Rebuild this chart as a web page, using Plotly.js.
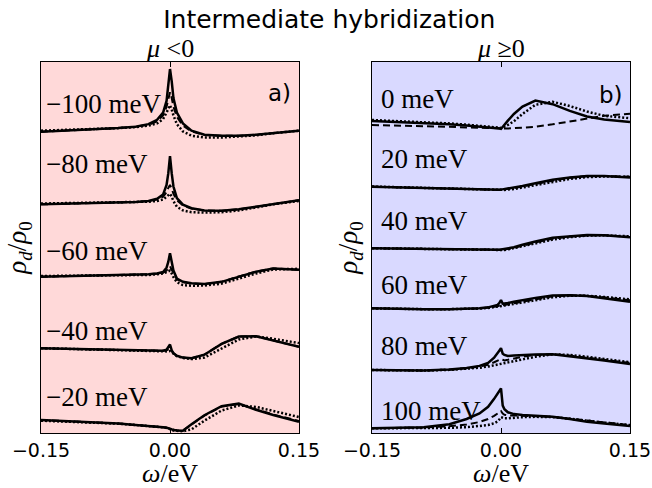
<!DOCTYPE html>
<html>
<head>
<meta charset="utf-8">
<script src="https://cdn.plot.ly/plotly-3.0.1.min.js"></script>
<style>html,body{margin:0;padding:0;background:#fff;}#chart{width:652px;height:488px;}</style>
</head>
<body>
<div id="chart"></div>
<script>
// energy grid (eV)
const omega = [-0.15, -0.12, -0.09, -0.06, -0.04, -0.025, -0.015, -0.008, -0.004, -0.002, 0, 0.002, 0.004, 0.008, 0.015, 0.025, 0.04, 0.06, 0.08, 0.1, 0.12, 0.15];

// panel a) mu < 0 (top to bottom)
const leftLabels = ['−100 meV', '−80 meV', '−60 meV', '−40 meV', '−20 meV'];
const m100_solid = [0.156, 0.17, 0.185, 0.205, 0.225, 0.26, 0.32, 0.42, 0.58, 0.78, 1.02, 0.85, 0.62, 0.42, 0.27, 0.17, 0.115, 0.1, 0.1, 0.115, 0.14, 0.17];
const m100_dash  = [0.156, 0.17, 0.185, 0.205, 0.225, 0.25, 0.3, 0.38, 0.5, 0.6, 0.7, 0.62, 0.5, 0.36, 0.24, 0.16, 0.11, 0.1, 0.1, 0.115, 0.14, 0.17];
const m100_dot   = [0.17, 0.18, 0.19, 0.205, 0.22, 0.24, 0.27, 0.33, 0.42, 0.48, 0.52, 0.46, 0.38, 0.26, 0.16, 0.1, 0.075, 0.075, 0.085, 0.105, 0.135, 0.17];
const m80_solid  = [0.154, 0.16, 0.167, 0.175, 0.185, 0.2, 0.23, 0.29, 0.42, 0.58, 0.82, 0.58, 0.4, 0.24, 0.15, 0.1, 0.07, 0.065, 0.085, 0.12, 0.16, 0.21];
const m80_dash   = [0.154, 0.16, 0.167, 0.175, 0.185, 0.2, 0.22, 0.26, 0.32, 0.38, 0.42, 0.37, 0.3, 0.21, 0.14, 0.095, 0.07, 0.065, 0.085, 0.12, 0.16, 0.21];
const m80_dot    = [0.165, 0.17, 0.175, 0.18, 0.185, 0.19, 0.2, 0.22, 0.26, 0.28, 0.3, 0.26, 0.2, 0.12, 0.07, 0.045, 0.04, 0.045, 0.07, 0.11, 0.155, 0.2];
const m60_solid  = [0.156, 0.162, 0.168, 0.174, 0.18, 0.19, 0.2, 0.22, 0.28, 0.36, 0.48, 0.33, 0.24, 0.13, 0.085, 0.065, 0.055, 0.085, 0.16, 0.225, 0.27, 0.25];
const m60_dash   = [0.156, 0.162, 0.168, 0.174, 0.18, 0.19, 0.2, 0.21, 0.24, 0.27, 0.3, 0.25, 0.2, 0.12, 0.08, 0.06, 0.055, 0.085, 0.16, 0.225, 0.27, 0.25];
const m60_dot    = [0.165, 0.168, 0.17, 0.172, 0.175, 0.18, 0.19, 0.2, 0.22, 0.23, 0.24, 0.2, 0.15, 0.08, 0.04, 0.03, 0.035, 0.06, 0.13, 0.2, 0.255, 0.265];
const m40_solid  = [0.168, 0.16, 0.152, 0.142, 0.138, 0.135, 0.133, 0.135, 0.15, 0.18, 0.22, 0.14, 0.1, 0.065, 0.04, 0.03, 0.08, 0.23, 0.33, 0.335, 0.28, 0.19];
const m40_dash   = [0.168, 0.16, 0.152, 0.142, 0.138, 0.135, 0.133, 0.133, 0.14, 0.155, 0.17, 0.13, 0.1, 0.065, 0.04, 0.03, 0.08, 0.23, 0.33, 0.335, 0.28, 0.19];
const m40_dot    = [0.17, 0.16, 0.15, 0.14, 0.135, 0.13, 0.125, 0.12, 0.12, 0.125, 0.13, 0.11, 0.09, 0.06, 0.035, 0.02, 0.04, 0.17, 0.29, 0.33, 0.3, 0.24];
const m20_solid  = [0.179, 0.165, 0.15, 0.13, 0.11, 0.1, 0.09, 0.08, 0.073, 0.07, 0.06, 0.05, 0.041, 0.035, 0.032, 0.12, 0.245, 0.37, 0.405, 0.32, 0.248, 0.156];
const m20_dash   = [0.179, 0.165, 0.15, 0.13, 0.11, 0.1, 0.09, 0.08, 0.073, 0.07, 0.062, 0.052, 0.044, 0.037, 0.034, 0.115, 0.24, 0.365, 0.4, 0.325, 0.255, 0.165];
const m20_dot    = [0.17, 0.158, 0.145, 0.128, 0.11, 0.098, 0.088, 0.078, 0.07, 0.06, 0.05, 0.04, 0.035, 0.03, 0.025, 0.05, 0.17, 0.31, 0.38, 0.36, 0.3, 0.22];

// panel b) mu >= 0 (top to bottom)
const rightLabels = ['0 meV', '20 meV', '40 meV', '60 meV', '80 meV', '100 meV'];
const p0_solid   = [0.115, 0.1, 0.085, 0.062, 0.04, 0.025, 0.012, 0.003, -0.005, -0.01, -0.016, 0.02, 0.05, 0.12, 0.23, 0.35, 0.45, 0.39, 0.28, 0.19, 0.14, 0.1];
const p0_dash    = [0.049, 0.042, 0.033, 0.02, 0.01, 0.003, -0.003, -0.008, -0.012, -0.014, -0.016, -0.014, -0.012, -0.008, -0.003, 0.005, 0.02, 0.06, 0.103, 0.15, 0.2, 0.235];
const p0_dot     = [0.131, 0.115, 0.098, 0.075, 0.055, 0.04, 0.025, 0.015, 0.008, 0.004, 0.0, 0.01, 0.02, 0.05, 0.11, 0.23, 0.38, 0.43, 0.36, 0.27, 0.2, 0.16];
const p20_solid  = [0.038, 0.027, 0.015, 0.0, -0.008, -0.013, -0.016, -0.016, -0.014, -0.012, -0.01, -0.005, 0.0, 0.008, 0.02, 0.05, 0.095, 0.15, 0.19, 0.215, 0.215, 0.19];
const p20_dash   = [0.038, 0.027, 0.015, 0.0, -0.008, -0.013, -0.016, -0.017, -0.016, -0.015, -0.014, -0.01, -0.006, 0.002, 0.012, 0.04, 0.085, 0.14, 0.185, 0.21, 0.215, 0.2];
const p20_dot    = [0.04, 0.028, 0.016, 0.0, -0.008, -0.014, -0.018, -0.02, -0.02, -0.02, -0.02, -0.018, -0.015, -0.008, 0.0, 0.025, 0.065, 0.12, 0.165, 0.195, 0.205, 0.2];
const p40_solid  = [0.028, 0.021, 0.014, 0.008, 0.004, 0.002, 0.0, 0.0, 0.0, 0.003, 0.008, 0.012, 0.016, 0.025, 0.045, 0.085, 0.14, 0.2, 0.228, 0.245, 0.24, 0.208];
const p40_dash   = [0.028, 0.021, 0.014, 0.008, 0.004, 0.001, -0.002, -0.003, -0.003, -0.002, 0.0, 0.004, 0.008, 0.016, 0.035, 0.07, 0.125, 0.185, 0.22, 0.24, 0.24, 0.215];
const p40_dot    = [0.03, 0.022, 0.015, 0.008, 0.003, 0.0, -0.003, -0.005, -0.005, -0.005, -0.004, -0.002, 0.0, 0.01, 0.03, 0.06, 0.11, 0.17, 0.21, 0.235, 0.24, 0.225];
const p60_solid  = [0.044, 0.035, 0.03, 0.03, 0.035, 0.045, 0.06, 0.08, 0.1, 0.13, 0.18, 0.12, 0.12, 0.13, 0.15, 0.18, 0.215, 0.255, 0.26, 0.245, 0.21, 0.153];
const p60_dash   = [0.044, 0.035, 0.03, 0.03, 0.034, 0.042, 0.052, 0.065, 0.078, 0.09, 0.11, 0.095, 0.1, 0.11, 0.13, 0.16, 0.2, 0.24, 0.255, 0.25, 0.225, 0.175];
const p60_dot    = [0.044, 0.035, 0.03, 0.03, 0.033, 0.04, 0.05, 0.06, 0.07, 0.075, 0.08, 0.085, 0.09, 0.1, 0.115, 0.14, 0.18, 0.225, 0.25, 0.25, 0.23, 0.19];
const p80_solid  = [0.033, 0.028, 0.024, 0.04, 0.065, 0.1, 0.15, 0.235, 0.3, 0.35, 0.39, 0.3, 0.28, 0.262, 0.27, 0.278, 0.288, 0.292, 0.26, 0.224, 0.19, 0.131];
const p80_dash   = [0.033, 0.028, 0.024, 0.038, 0.06, 0.09, 0.12, 0.16, 0.19, 0.2, 0.21, 0.2, 0.19, 0.2, 0.22, 0.25, 0.28, 0.29, 0.27, 0.24, 0.2, 0.15];
const p80_dot    = [0.033, 0.028, 0.024, 0.035, 0.05, 0.07, 0.09, 0.11, 0.125, 0.135, 0.14, 0.145, 0.15, 0.16, 0.18, 0.21, 0.25, 0.29, 0.28, 0.25, 0.21, 0.16];
const p100_solid = [0.077, 0.082, 0.096, 0.145, 0.23, 0.32, 0.43, 0.56, 0.64, 0.69, 0.73, 0.45, 0.39, 0.34, 0.31, 0.295, 0.28, 0.265, 0.23, 0.186, 0.155, 0.115];
const p100_dash  = [0.077, 0.08, 0.09, 0.11, 0.14, 0.18, 0.23, 0.28, 0.32, 0.34, 0.36, 0.32, 0.3, 0.29, 0.285, 0.28, 0.275, 0.265, 0.235, 0.2, 0.17, 0.13];
const p100_dot   = [0.077, 0.078, 0.08, 0.085, 0.095, 0.11, 0.13, 0.16, 0.19, 0.22, 0.26, 0.25, 0.24, 0.24, 0.25, 0.26, 0.265, 0.26, 0.235, 0.2, 0.17, 0.13];

const leftSets = [
  [m100_solid, m100_dash, m100_dot],
  [m80_solid, m80_dash, m80_dot],
  [m60_solid, m60_dash, m60_dot],
  [m40_solid, m40_dash, m40_dot],
  [m20_solid, m20_dash, m20_dot]
];
const rightSets = [
  [p0_solid, p0_dash, p0_dot],
  [p20_solid, p20_dash, p20_dot],
  [p40_solid, p40_dash, p40_dot],
  [p60_solid, p60_dash, p60_dot],
  [p80_solid, p80_dash, p80_dot],
  [p100_solid, p100_dash, p100_dot]
];

const styles = [
  {dash: 'solid', width: 2.5},
  {dash: '7px,4px', width: 2},
  {dash: '2px,2px', width: 2.5}
];

const traces = [];
function addPanel(sets, xa, ya) {
  const n = sets.length;
  sets.forEach((set, i) => {
    const off = n - 1 - i;
    [2, 1, 0].forEach(k => {
      traces.push({
        x: omega, y: set[k].map(v => v + off),
        xaxis: xa, yaxis: ya, type: 'scatter', mode: 'lines',
        line: {color: 'black', width: styles[k].width, dash: styles[k].dash},
        showlegend: false, hoverinfo: 'skip'
      });
    });
  });
}
addPanel(leftSets, 'x', 'y');
addPanel(rightSets, 'x2', 'y2');

const serif = 'Liberation Serif, DejaVu Serif, serif';
const annotations = [];
const leftLabelY = [4.54, 3.71, 2.51, 1.41, 0.50];
leftLabels.forEach((t, i) => annotations.push({
  text: t, xref: 'x', yref: 'y', x: -0.147, y: leftLabelY[i],
  xanchor: 'left', yanchor: 'middle', showarrow: false,
  font: {family: serif, size: 27, color: 'black'}
}));
const rightLabelY = [5.47, 4.49, 3.48, 2.43, 1.43, 0.36];
rightLabels.forEach((t, i) => annotations.push({
  text: t, xref: 'x2', yref: 'y2', x: -0.142, y: rightLabelY[i],
  xanchor: 'left', yanchor: 'middle', showarrow: false,
  font: {family: serif, size: 27, color: 'black'}
}));
annotations.push({text: '<i>μ</i>&nbsp;&lt;0', xref: 'x domain', yref: 'y domain', x: 0.5, y: 1, yanchor: 'bottom', yshift: -3, showarrow: false, font: {family: serif, size: 26, color: 'black'}});
annotations.push({text: '<i>μ</i>&nbsp;≥0', xref: 'x2 domain', yref: 'y2 domain', x: 0.5, y: 1, yanchor: 'bottom', yshift: -3, showarrow: false, font: {family: serif, size: 26, color: 'black'}});
annotations.push({text: 'a)', xref: 'x domain', yref: 'y domain', x: 0.975, y: 0.916, xanchor: 'right', yanchor: 'middle', showarrow: false, font: {family: 'DejaVu Sans', size: 23, color: 'black'}});
annotations.push({text: 'b)', xref: 'x2 domain', yref: 'y2 domain', x: 0.98, y: 0.911, xanchor: 'right', yanchor: 'middle', showarrow: false, font: {family: 'DejaVu Sans', size: 23, color: 'black'}});

const xCommon = {
  range: [-0.15, 0.15], tickvals: [-0.15, 0, 0.15], ticktext: ['−0.15', '0.00', '0.15'],
  ticks: 'inside', ticklen: 5, tickcolor: 'black', showline: true, linecolor: 'black', linewidth: 1,
  mirror: 'ticks', showgrid: false, zeroline: false,
  tickfont: {family: 'DejaVu Sans', size: 19, color: 'black'},
  title: {text: '<i>ω</i>/eV', font: {family: serif, size: 26, color: 'black'}, standoff: 5}
};
const yCommon = {
  showticklabels: false, ticks: '', showline: true, linecolor: 'black', linewidth: 1,
  mirror: true, showgrid: false, zeroline: false,
  title: {text: '<i>ρ</i><sub><i>d</i></sub>/<i>ρ</i><sub>0</sub>', font: {family: serif, size: 27, color: 'black'}, standoff: 5}
};

const layout = {
  width: 652, height: 488,
  margin: {l: 0, r: 0, t: 62, b: 55},
  paper_bgcolor: 'white', plot_bgcolor: 'white',
  title: {text: 'Intermediate hybridization', font: {family: 'DejaVu Sans', size: 25, color: 'black'}, x: 0.505, xanchor: 'center', y: 0.96, yanchor: 'middle'},
  xaxis: Object.assign({}, xCommon, {domain: [41/652, 299/652], anchor: 'y'}),
  yaxis: Object.assign({}, yCommon, {range: [0, 5.117], domain: [0, 1], anchor: 'x'}),
  xaxis2: Object.assign({}, xCommon, {domain: [372/652, 630/652], anchor: 'y2'}),
  yaxis2: Object.assign({}, yCommon, {range: [0, 6.082], domain: [0, 1], anchor: 'x2'}),
  shapes: [
    {type: 'rect', xref: 'x domain', yref: 'y domain', x0: 0, x1: 1, y0: 0, y1: 1, fillcolor: 'rgb(255,217,217)', line: {width: 0}, layer: 'below'},
    {type: 'rect', xref: 'x2 domain', yref: 'y2 domain', x0: 0, x1: 1, y0: 0, y1: 1, fillcolor: 'rgb(217,217,255)', line: {width: 0}, layer: 'below'}
  ],
  annotations: annotations,
  hovermode: false
};

Plotly.newPlot('chart', traces, layout, {displayModeBar: false, staticPlot: true});
</script>
</body>
</html>
